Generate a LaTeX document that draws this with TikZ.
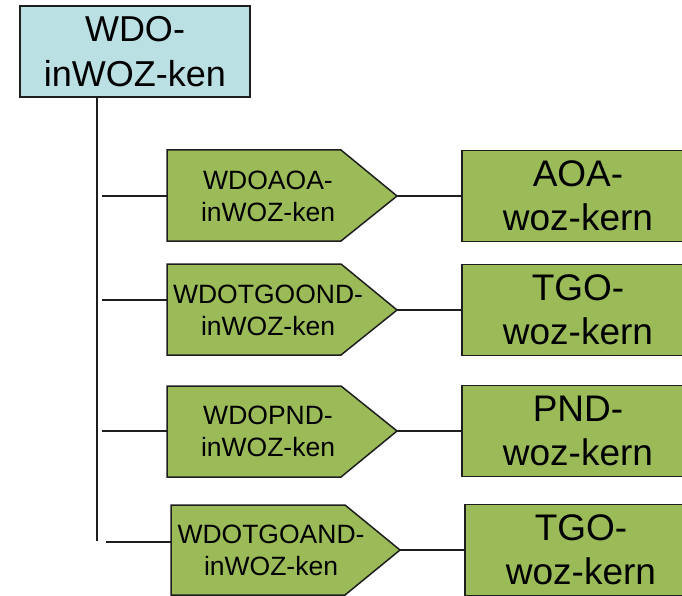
\documentclass[tikz,border=0pt]{standalone}
\usepackage{fontspec}
\setmainfont{Liberation Sans}
\definecolor{topblue}{RGB}{187,224,227}
\definecolor{okgreen}{RGB}{155,187,89}
\definecolor{edgec}{RGB}{30,30,30}
\tikzset{
  topbox/.style={draw=edgec, fill=topblue, line width=1.5pt, minimum width=230pt, minimum height=91pt, inner sep=0pt, outer sep=0pt, align=center, font=\fontsize{36}{45}\selectfont},
  pentbox/.style={draw=edgec, fill=okgreen, line width=1.5pt, line join=miter},
  penttext/.style={align=center, inner sep=0pt, font=\fontsize{26.5}{32}\selectfont},
  kern/.style={draw=edgec, fill=okgreen, line width=1.5pt, minimum width=232pt, minimum height=91pt, inner sep=0pt, outer sep=0pt, anchor=west, align=center, font=\fontsize{37}{43.5}\selectfont},
  conn/.style={draw=edgec, line width=1.5pt}
}
% #1 name, #2 left, #3 top, #4 bottom, #5 shoulder, #6 tip, #7 mid
\newcommand{\mypent}[7]{%
  \draw[pentbox] (#2,#3) -- (#5,#3) -- (#6,#7) -- (#5,#4) -- (#2,#4) -- cycle;
  \coordinate (#1w) at (#2,#7);
  \coordinate (#1e) at (#6,#7);
}
\begin{document}
\begin{tikzpicture}[x=1pt,y=1pt]
\useasboundingbox (0,0) rectangle (682,-596);
\clip (0,0) rectangle (682,-596);
% top box
\node[topbox] (top) at (135,-51.5) {WDO-\\inWOZ-ken};
\coordinate (trunkend) at (97,-541);
\draw[conn] (top.south -| trunkend) -- (trunkend);
% row 1
\mypent{p1}{167}{-150}{-241}{341}{397}{-196}
\node[penttext] (t1) at (268,-196) {WDOAOA-\\inWOZ-ken};
\node[kern] (k1) at (462,-196) {AOA-\\woz-kern};
\coordinate (b1) at (102,-196);
\draw[conn] (b1) -- (p1w);
\draw[conn] (p1e) -- (k1.west);
% row 2
\mypent{p2}{167}{-264}{-355}{341}{397}{-310}
\node[penttext] (t2) at (268,-310) {WDOTGOOND-\\inWOZ-ken};
\node[kern] (k2) at (462,-310) {TGO-\\woz-kern};
\coordinate (b2) at (102,-300);
\draw[conn] (b2) -- (b2 -| p2w);
\draw[conn] (p2e) -- (k2.west);
% row 3
\mypent{p3}{167}{-386}{-477}{341}{397}{-431}
\node[penttext] (t3) at (268,-431) {WDOPND-\\inWOZ-ken};
\node[kern] (k3) at (462,-431) {PND-\\woz-kern};
\coordinate (b3) at (102,-431);
\draw[conn] (b3) -- (p3w);
\draw[conn] (p3e) -- (k3.west);
% row 4
\mypent{p4}{171}{-505}{-595}{345}{400}{-550}
\node[penttext] (t4) at (271,-550) {WDOTGOAND-\\inWOZ-ken};
\node[kern] (k4) at (465,-550) {TGO-\\woz-kern};
\coordinate (b4) at (106,-542);
\draw[conn] (b4) -- (b4 -| p4w);
\draw[conn] (p4e) -- (k4.west);
\end{tikzpicture}
\end{document}
